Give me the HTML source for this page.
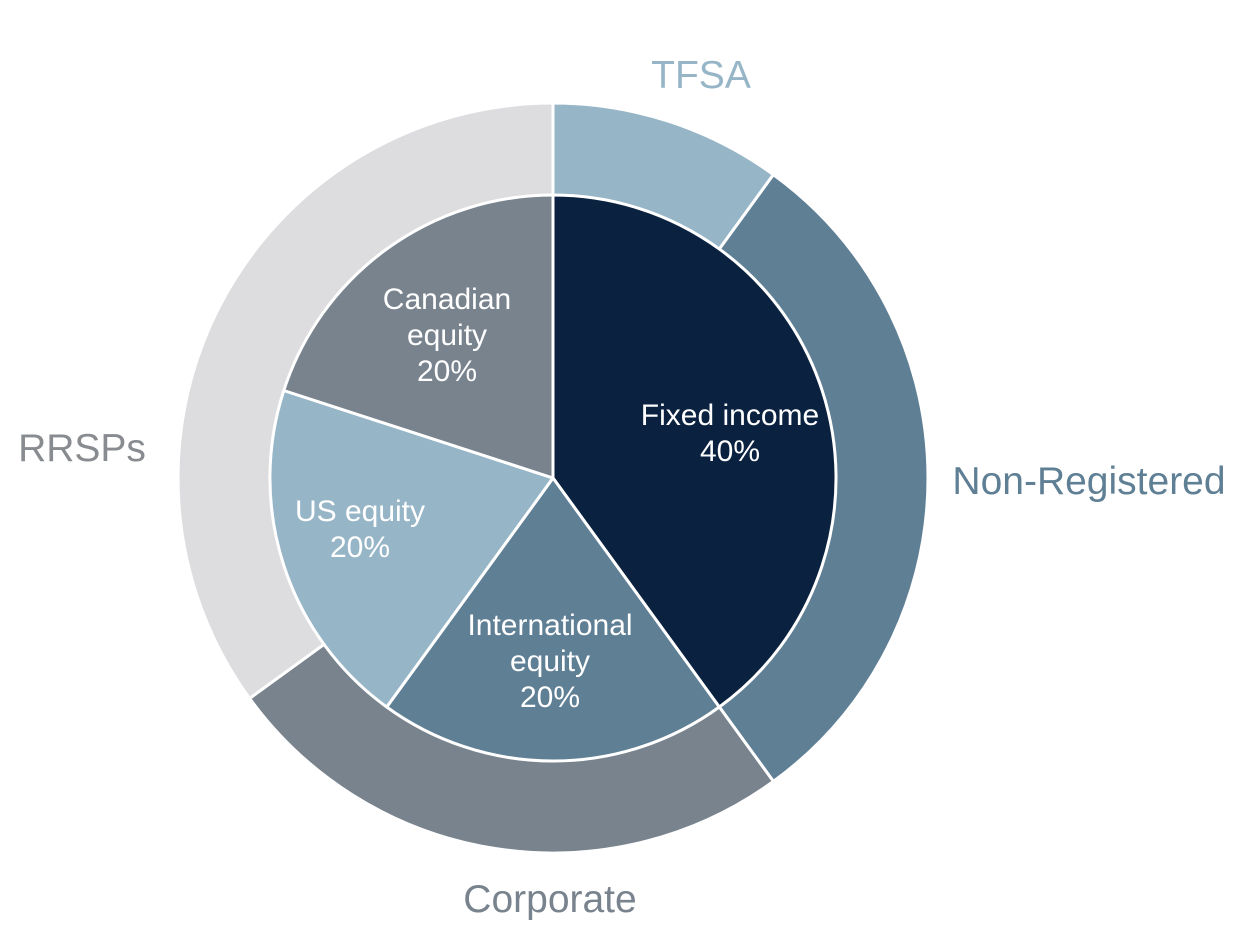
<!DOCTYPE html>
<html><head><meta charset="utf-8"><style>
html,body{margin:0;padding:0;background:#fff;}
svg{display:block;font-family:"Liberation Sans",Arial,sans-serif;}
</style></head><body>
<svg width="1240" height="928" viewBox="0 0 1240 928" xmlns="http://www.w3.org/2000/svg">
<g stroke="#fff" stroke-width="3" stroke-linejoin="round">
<path d="M553,478 L553,103 A375,375 0 0 1 773.4,174.6 Z" fill="#96b5c7"/>
<path d="M553,478 L773.4,174.6 A375,375 0 0 1 773.4,781.4 Z" fill="#5f7f95"/>
<path d="M553,478 L773.4,781.4 A375,375 0 0 1 249.6,698.4 Z" fill="#78838e"/>
<path d="M553,478 L249.6,698.4 A375,375 0 0 1 553,103 Z" fill="#dddde0"/>
<path d="M553,478 L553,195 A283,283 0 0 1 719.3,707 Z" fill="#0a2240"/>
<path d="M553,478 L719.3,707 A283,283 0 0 1 386.7,707 Z" fill="#5f7f95"/>
<path d="M553,478 L386.7,707 A283,283 0 0 1 283.8,390.5 Z" fill="#96b5c7"/>
<path d="M553,478 L283.8,390.5 A283,283 0 0 1 553,195 Z" fill="#78838e"/>
</g>
<g fill="#fff" font-size="30" text-anchor="middle">
<text x="447" y="309">Canadian</text><text x="447" y="345">equity</text><text x="447" y="381">20%</text>
<text x="730" y="425">Fixed income</text><text x="730" y="461">40%</text>
<text x="360" y="521">US equity</text><text x="360" y="557">20%</text>
<text x="550" y="635">International</text><text x="550" y="671">equity</text><text x="550" y="707">20%</text>
</g>
<g font-size="39" text-anchor="middle">
<text x="701" y="88" fill="#96b5c7">TFSA</text>
<text x="82" y="461" fill="#888b8f">RRSPs</text>
<text x="1089" y="494" fill="#5f7f95">Non-Registered</text>
<text x="550" y="912" fill="#78838e">Corporate</text>
</g>
</svg>
</body></html>
